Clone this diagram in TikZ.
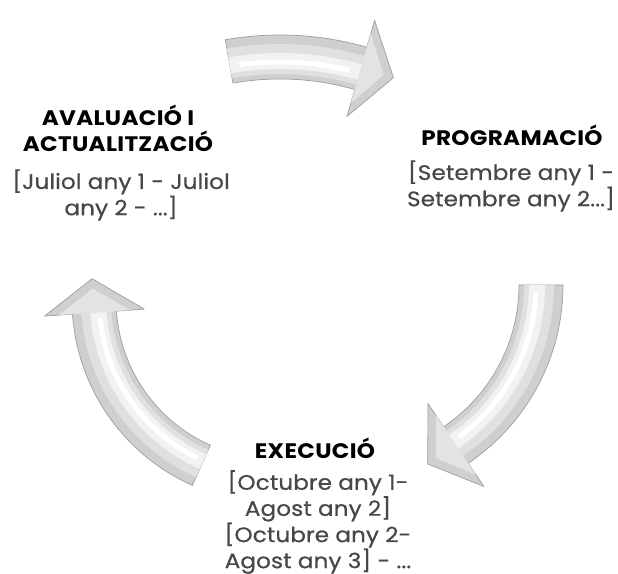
\documentclass[tikz,border=0pt]{standalone}
\usepackage{fontspec}
\setmainfont{Poppins}
\newfontfamily\titlefont[FakeStretch=1.1, LetterSpace=1.5]{Poppins}
\newfontfamily\datesfont[FakeStretch=1.1, LetterSpace=0.5, FakeBold=0.6]{Poppins}
\usetikzlibrary{calc}

% curved cycle arrow: centre x, centre y, radius, tail angle, head angle
\newcommand{\cyclearrow}[5]{%
  \coordinate (c) at (#1,#2);
  \filldraw[fill=gray!38, draw=gray!75, line width=0.7pt, line join=round]
    ($(c)+({#4}:{#3+22})$) arc[start angle=#4, end angle=#5, radius=#3+22]
    -- ($(c)+({#5}:{#3+50})$)
    -- ($(c)+({#5}:{#3})+({#5-90}:{34})$)
    -- ($(c)+({#5}:{#3-50})$)
    -- ($(c)+({#5}:{#3-22})$) arc[start angle=#5, end angle=#4, radius=#3-22]
    -- cycle;
  \fill[gray!22] ($(c)+({#5}:{#3+36})$) -- ($(c)+({#5}:{#3})+({#5-90}:{24})$)
    -- ($(c)+({#5}:{#3-36})$) -- cycle;
  \draw[gray!24, line width=30pt] ($(c)+({#4}:{#3-2})$) arc[start angle=#4, end angle=#5, radius=#3-2];
  \draw[gray!10, line width=16pt] ($(c)+({#4}:{#3-4})$) arc[start angle=#4, end angle=#5, radius=#3-4];
  \draw[white, line width=5pt] ($(c)+({#4-2}:{#3-5})$) arc[start angle=#4-2, end angle=#5+2, radius=#3-5];
}

\begin{document}
\begin{tikzpicture}[
  x=1pt, y=1pt,
  title/.style={font=\titlefont\bfseries\fontsize{21}{26}\selectfont, align=center, inner sep=0pt},
  dates/.style={font=\datesfont\fontsize{21}{26.3}\selectfont, text=black!72, align=center, inner sep=0pt}
]
\useasboundingbox (0,0) rectangle (618,573);
\fill[white] (0,0) rectangle (618,573);

\cyclearrow{280}{223}{293}{100}{74}
\cyclearrow{348}{288}{193}{0}{-56}
\cyclearrow{275}{273}{181}{246}{184}

\node[title] (avaltitle) at (118,445) {AVALUACIÓ I\\ACTUALITZACIÓ};
\node[dates] (avaldates) at (121,378) {[Juliol any 1 - Juliol\\any 2 - ...]};

\node[title] (progtitle) at (512,438) {PROGRAMACIÓ};
\node[dates] (progdates) at (511,387) {[Setembre any 1 -\\Setembre any 2...]};

\node[title] (exectitle) at (315,125) {EXECUCIÓ};
\node[dates, font=\datesfont\fontsize{21}{25}\selectfont] (execdates) at (318,51)
  {[Octubre any 1-\\Agost any 2]\\{}[Octubre any 2-\\Agost any 3] - ...};
\end{tikzpicture}
\end{document}
